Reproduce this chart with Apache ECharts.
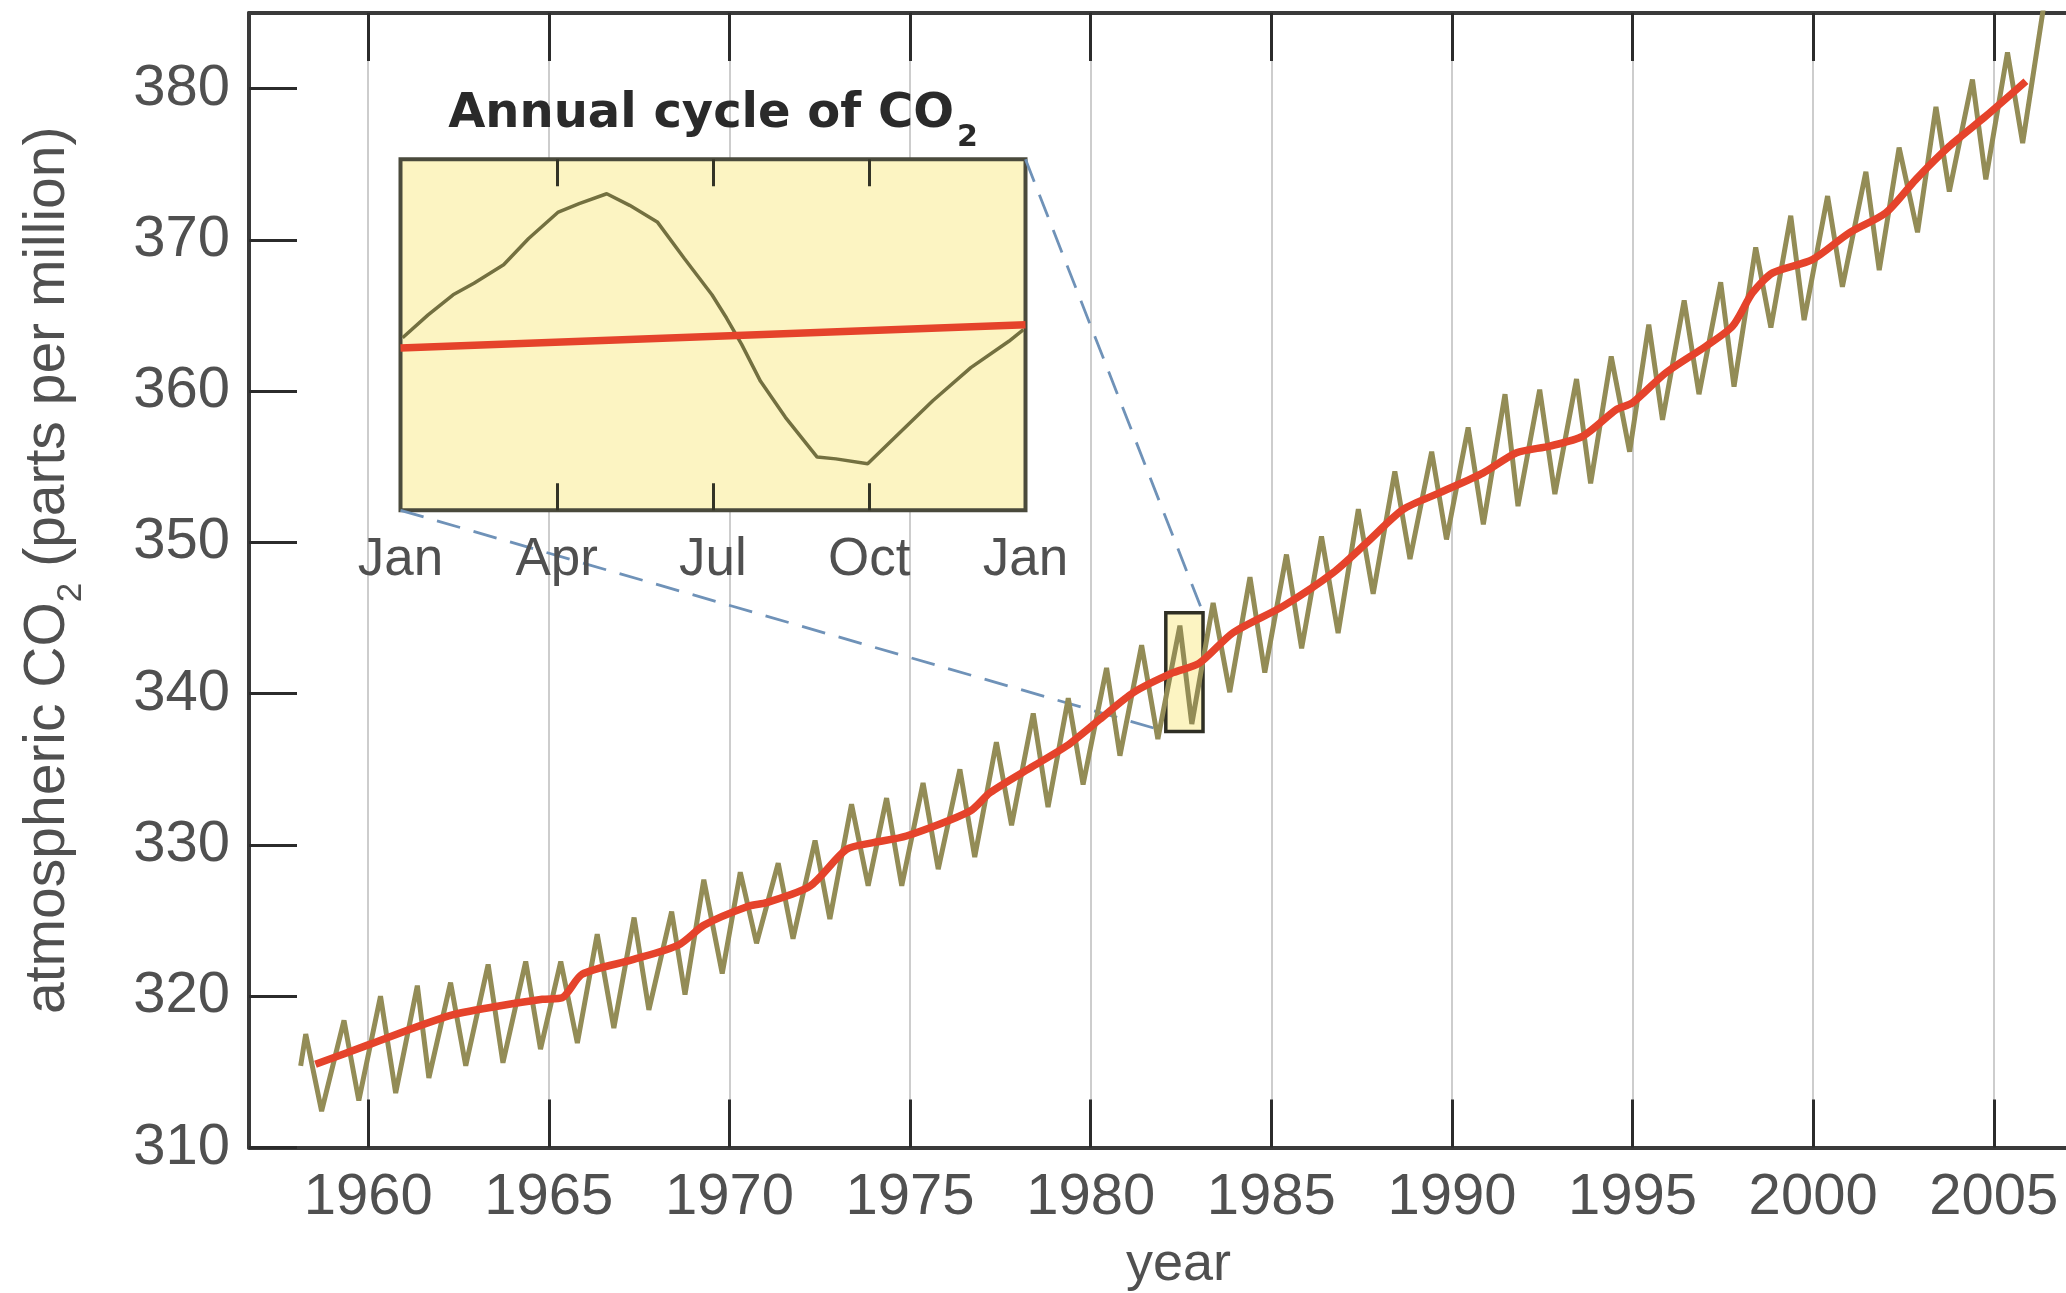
<!DOCTYPE html>
<html><head><meta charset="utf-8">
<script src="https://cdn.jsdelivr.net/npm/echarts@6/dist/echarts.min.js"></script>
<style>html,body{margin:0;padding:0;background:#fff}#c{width:2066px;height:1293px}</style>
</head><body><div id="c"></div>
<script>
// ---------- data ----------
const YEAR_TICKS = [1960, 1965, 1970, 1975, 1980, 1985, 1990, 1995, 2000, 2005];
const PPM_TICKS = [310, 320, 330, 340, 350, 360, 370, 380];

// seasonal (monthly) record: alternating peaks and troughs
const CYCLE_YEARS = [1958.13,1958.27,1958.71,1959.33,1959.74,1960.34,1960.76,1961.36,1961.68,1962.28,1962.70,1963.32,1963.73,1964.36,1964.77,1965.33,1965.79,1966.34,1966.80,1967.36,1967.77,1968.40,1968.77,1969.29,1969.80,1970.30,1970.75,1971.35,1971.76,1972.37,1972.78,1973.38,1973.84,1974.35,1974.77,1975.36,1975.78,1976.38,1976.79,1977.39,1977.81,1978.41,1978.82,1979.38,1979.79,1980.44,1980.81,1981.41,1981.86,1982.47,1982.80,1983.39,1983.85,1984.41,1984.82,1985.42,1985.84,1986.39,1986.85,1987.41,1987.82,1988.42,1988.84,1989.44,1989.85,1990.45,1990.87,1991.47,1991.83,1992.43,1992.85,1993.45,1993.84,1994.41,1994.92,1995.45,1995.83,1996.43,1996.84,1997.44,1997.81,1998.41,1998.83,1999.38,1999.75,2000.40,2000.81,2001.46,2001.83,2002.38,2002.89,2003.40,2003.77,2004.41,2004.78,2005.38,2005.80,2006.45];
const CYCLE_PPM = [315.4,317.5,312.4,318.4,313.1,320.0,313.6,320.7,314.6,320.9,315.4,322.1,315.6,322.3,316.5,322.3,316.9,324.1,317.9,325.2,319.1,325.6,320.1,327.7,321.5,328.2,323.5,328.8,323.8,330.3,325.1,332.7,327.3,333.1,327.3,334.1,328.4,335.0,329.2,336.8,331.3,338.7,332.5,339.7,334.0,341.7,335.9,343.2,337.0,344.5,338.0,346.0,340.1,347.7,341.4,349.2,343.0,350.4,344.0,352.2,346.6,354.7,348.9,356.0,350.2,357.6,351.2,359.8,352.4,360.1,353.2,360.8,353.9,362.3,356.0,364.4,358.1,366.0,359.8,367.2,360.3,369.5,364.2,371.6,364.7,372.9,366.9,374.5,368.0,376.1,370.5,378.8,373.2,380.6,374.0,382.4,376.4,386.5];

// annual-mean trend (red)
const TREND_YEARS = [1958.54,1960.02,1962.23,1963.62,1964.82,1965.37,1965.92,1967.30,1968.60,1969.30,1970.54,1971.03,1972.23,1973.24,1973.98,1974.90,1976.66,1977.21,1978.41,1979.33,1980.25,1981.18,1982.28,1983.00,1983.94,1985.33,1986.71,1987.64,1988.65,1989.67,1990.87,1991.79,1992.71,1993.63,1994.56,1995.00,1995.92,1997.03,1997.77,1998.32,1998.88,1999.98,2001.00,2002.01,2002.84,2003.77,2004.78,2005.89];
const TREND_PPM = [315.5,316.8,318.7,319.35,319.8,319.9,321.45,322.4,323.4,324.7,325.96,326.19,327.28,329.71,330.15,330.59,332.24,333.45,335.21,336.54,338.3,340.07,341.39,342.0,344.03,345.79,348.0,349.98,352.18,353.29,354.6,355.93,356.37,357.03,358.79,359.23,361.21,362.97,364.3,366.5,367.82,368.7,370.47,371.79,373.99,376.19,378.18,380.49];

// zoomed box on the main record
const BOX_YEARS = [1982.08, 1983.11];
const BOX_PPM = [337.5, 345.35];

// inset: annual cycle
const MONTH_POS = [0, 3, 6, 9, 12];
const MONTH_LABELS = ['Jan', 'Apr', 'Jul', 'Oct', 'Jan'];
const INNER_MONTH_TICKS = [3, 6, 9];
const INSET_MONTHS = [0.04,0.53,1.01,1.41,1.98,2.46,3.03,3.43,3.96,4.40,4.93,5.45,5.98,6.26,6.55,6.91,7.39,8.00,8.36,8.97,9.49,10.22,10.95,11.68,11.96];
const INSET_PPM = [341.36,341.87,342.32,342.58,342.99,343.58,344.17,344.36,344.58,344.32,343.95,343.13,342.32,341.80,341.21,340.39,339.58,338.69,338.65,338.54,339.13,339.95,340.69,341.28,341.54];
const INSET_TREND_MONTHS = [0, 12];
const INSET_TREND_PPM = [341.13, 341.65];

// ---------- layout / style ----------
const FONT = 'Liberation Sans';
const TXT = '#505050';
const AXIS = '#3a3a3a';
const YELLOW = '#fcf4c2';
const INSET = {left: 400.5, top: 159.3, width: 625, height: 351};

const pairs = (xs, ys) => xs.map((x, i) => [x, ys[i]]);

const chart = echarts.init(document.getElementById('c'), null, {renderer: 'canvas'});

function renderBox(params, api) {
  const bl = api.coord([api.value(0), api.value(1)]);
  const tr = api.coord([api.value(2), api.value(3)]);
  const dash = {stroke: '#6f92b8', lineWidth: 2.8, lineDash: [24, 14], fill: null};
  return {type: 'group', children: [
    {type: 'line', shape: {x1: INSET.left, y1: INSET.top + INSET.height, x2: bl[0], y2: bl[1]}, style: dash},
    {type: 'line', shape: {x1: INSET.left + INSET.width, y1: INSET.top, x2: tr[0], y2: tr[1]}, style: dash},
    {type: 'rect', shape: {x: bl[0], y: tr[1], width: tr[0] - bl[0], height: bl[1] - tr[1]},
      style: {fill: YELLOW, stroke: '#2f2f24', lineWidth: 3.5}}
  ]};
}

const option = {
  animation: false,
  backgroundColor: '#ffffff',
  grid: [
    {left: 249, top: 13, right: 0, bottom: 145.5, outerBoundsMode: 'none', containLabel: false},
    {left: INSET.left, top: INSET.top, width: INSET.width, height: INSET.height,
      show: true, backgroundColor: YELLOW, borderColor: '#4a4a3c', borderWidth: 4, z: 1,
      outerBoundsMode: 'none', containLabel: false}
  ],
  xAxis: [
    {
      type: 'value', gridIndex: 0, position: 'bottom', min: 1956.7, max: 2007, z: 0,
      axisLine: {show: true, onZero: false, lineStyle: {color: AXIS, width: 4}},
      axisTick: {show: true, inside: true, length: 48, customValues: YEAR_TICKS, lineStyle: {color: '#2b2b2b', width: 3}},
      axisLabel: {show: true, customValues: YEAR_TICKS, margin: 21, fontSize: 58, fontFamily: FONT, color: TXT,
        formatter: v => String(v)},
      splitLine: {show: true, lineStyle: {color: '#cdcdcd', width: 2}},
      name: 'year', nameLocation: 'middle', nameGap: 91, nameMoveOverlap: false,
      nameTextStyle: {fontSize: 54, fontFamily: FONT, color: TXT, padding: [0, 0, 0, 42]}
    },
    {
      type: 'value', gridIndex: 0, position: 'top', min: 1956.7, max: 2007, z: 0,
      axisLine: {show: true, onZero: false, lineStyle: {color: AXIS, width: 4}},
      axisTick: {show: true, inside: true, length: 48, customValues: YEAR_TICKS, lineStyle: {color: '#2b2b2b', width: 3}},
      axisLabel: {show: false},
      splitLine: {show: false}
    },
    {
      type: 'value', gridIndex: 1, position: 'bottom', min: 0, max: 12, interval: 3, z: 3,
      axisLine: {show: false},
      axisTick: {show: true, inside: true, length: 27, customValues: INNER_MONTH_TICKS, lineStyle: {color: '#333326', width: 3}},
      axisLabel: {show: true, customValues: MONTH_POS, margin: 24, fontSize: 53, fontFamily: FONT, color: TXT,
        formatter: v => MONTH_LABELS[MONTH_POS.indexOf(v)]},
      splitLine: {show: false}
    },
    {
      type: 'value', gridIndex: 1, position: 'top', min: 0, max: 12, interval: 3, z: 3,
      axisLine: {show: false},
      axisTick: {show: true, inside: true, length: 27, customValues: INNER_MONTH_TICKS, lineStyle: {color: '#333326', width: 3}},
      axisLabel: {show: false},
      splitLine: {show: false},
      name: '{t|Annual cycle of CO}{s|2}', nameLocation: 'middle', nameGap: 6, nameMoveOverlap: false,
      nameTextStyle: {
        rich: {
          t: {fontSize: 48, fontWeight: 'bold', fontFamily: 'DejaVu Sans', color: '#2a2a2a', lineHeight: 78},
          s: {fontSize: 30, fontWeight: 'bold', fontFamily: 'DejaVu Sans', color: '#2a2a2a', lineHeight: 34, verticalAlign: 'bottom', padding: [0, 0, 0, 3]}
        }
      }
    }
  ],
  yAxis: [
    {
      type: 'value', gridIndex: 0, min: 310, max: 385, z: 0,
      axisLine: {show: true, onZero: false, lineStyle: {color: AXIS, width: 4}},
      axisTick: {show: true, inside: true, length: 48, customValues: PPM_TICKS, lineStyle: {color: '#2b2b2b', width: 3}},
      axisLabel: {show: true, customValues: PPM_TICKS, margin: 19, fontSize: 58, fontFamily: FONT, color: TXT,
        formatter: v => String(v)},
      splitLine: {show: false},
      name: '{t|atmospheric CO}{s|2}{t| (parts per million)}', nameLocation: 'middle', nameRotate: 90, nameGap: 160,
      nameMoveOverlap: false,
      nameTextStyle: {
        padding: [0, 0, 0, 20],
        rich: {
          t: {fontSize: 57, fontFamily: FONT, color: TXT, lineHeight: 82},
          s: {fontSize: 35, fontFamily: FONT, color: TXT, lineHeight: 36, verticalAlign: 'bottom'}
        }
      }
    },
    {
      type: 'value', gridIndex: 1, min: BOX_PPM[0], max: BOX_PPM[1], z: 3,
      axisLine: {show: false}, axisTick: {show: false}, axisLabel: {show: false}, splitLine: {show: false}
    }
  ],
  series: [
    {
      type: 'custom', xAxisIndex: 0, yAxisIndex: 0, z: 1, silent: true,
      renderItem: renderBox,
      data: [[BOX_YEARS[0], BOX_PPM[0], BOX_YEARS[1], BOX_PPM[1]]]
    },
    {
      type: 'line', xAxisIndex: 0, yAxisIndex: 0, z: 3, showSymbol: false, symbol: 'none', clip: true,
      data: pairs(CYCLE_YEARS, CYCLE_PPM),
      lineStyle: {color: '#938c56', width: 5}
    },
    {
      type: 'line', xAxisIndex: 0, yAxisIndex: 0, z: 4, showSymbol: false, symbol: 'none', clip: true,
      data: pairs(TREND_YEARS, TREND_PPM), smooth: 0.25,
      lineStyle: {color: '#e5432b', width: 7.5}
    },
    {
      type: 'line', xAxisIndex: 2, yAxisIndex: 1, z: 5, showSymbol: false, symbol: 'none',
      data: pairs(INSET_MONTHS, INSET_PPM),
      lineStyle: {color: '#737040', width: 3.5}
    },
    {
      type: 'line', xAxisIndex: 2, yAxisIndex: 1, z: 6, showSymbol: false, symbol: 'none',
      data: pairs(INSET_TREND_MONTHS, INSET_TREND_PPM),
      lineStyle: {color: '#e5432b', width: 7.5}
    }
  ]
};
chart.setOption(option);
</script></body></html>
